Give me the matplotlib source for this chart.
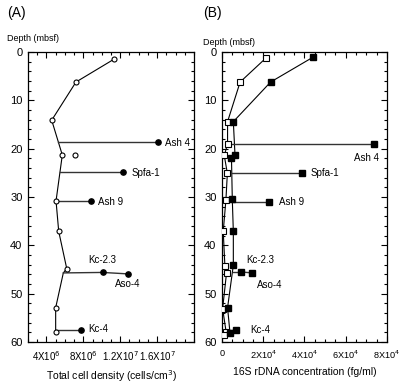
import numpy as np
import matplotlib
matplotlib.use('Agg')
import matplotlib.pyplot as plt
from matplotlib.ticker import MultipleLocator

plt.rcParams['font.family'] = ['Liberation Sans', 'DejaVu Sans']

# ---- Panel A: total cell density (cells/cm3) ----
a_line_x = [11.3e6, 7.2e6, 4.57e6, 5.72e6, 5.04e6, 5.33e6, 6.2e6, 5.83e6, 5.0e6, 5.0e6]
a_line_d = [1.5, 6.2, 14.1, 21.3, 30.8, 37.1, 44.8, 45.7, 52.9, 58.0]
a_open_x = [11.3e6, 7.2e6, 4.57e6, 5.72e6, 7.13e6, 5.04e6, 5.33e6, 6.2e6, 5.0e6, 5.0e6]
a_open_d = [1.5, 6.2, 14.1, 21.3, 21.2, 30.8, 37.1, 44.8, 52.9, 58.0]

# ash layers: branch start on profile, filled points, labels
a_ash_names = ['Ash 4', 'Spfa-1', 'Ash 9', 'Kc-2.3', 'Aso-4', 'Kc-4']
a_ash_x = [16.07e6, 12.27e6, 8.8e6, 10.1e6, 12.8e6, 7.75e6]
a_ash_d = [18.7, 24.8, 30.9, 45.6, 45.9, 57.5]
a_start_x = [5.3e6, 5.47e6, 5.04e6, 5.83e6, 10.1e6, 5.0e6]
a_start_d = [18.7, 24.8, 30.9, 45.7, 45.6, 57.5]

# ---- Panel B: 16S rDNA concentration (fg/ml) ----
b_open_x = [21.4e3, 8.8e3, 2.7e3, 2.7e3, 1.1e3, 2.6e3, 1.9e3, 0.6e3, 1.4e3, 2.2e3, 0.3e3, 2.0e3, 1.2e3]
b_open_d = [1.2, 6.2, 14.4, 19.0, 21.4, 25.1, 30.6, 37.1, 44.2, 45.7, 53.1, 57.9, 58.5]
b_fill_x = [44e3, 23.6e3, 5.5e3, 6.3e3, 4.6e3, 5.0e3, 5.5e3, 5.5e3, 2.7e3, 3.9e3]
b_fill_d = [1.1, 6.2, 14.4, 21.2, 21.9, 30.5, 37.1, 44.1, 52.9, 58.2]

b_ash_names = ['Ash 4', 'Spfa-1', 'Ash 9', 'Kc-2.3', 'Aso-4', 'Kc-4']
b_ash_x = [74e3, 38.7e3, 22.8e3, 9.3e3, 14.6e3, 6.6e3]
b_ash_d = [19.1, 25.1, 31.1, 45.5, 45.7, 57.5]
b_start_x = [4.5e3, 4.8e3, 5.0e3, 5.5e3, 9.3e3, 3.5e3]
b_start_d = [19.1, 25.1, 31.1, 45.5, 45.5, 57.5]

a_xticks = [4e6, 8e6, 1.2e7, 1.6e7]
a_xticklabels = [r'4X10$^{6}$', r'8X10$^{6}$', r'1.2X10$^{7}$', r'1.6X10$^{7}$']
b_xticks = [0, 2e4, 4e4, 6e4, 8e4]
b_xticklabels = ['0', r'2X10$^{4}$', r'4X10$^{4}$', r'6X10$^{4}$', r'8X10$^{4}$']

fig = plt.figure(figsize=(4.0, 3.83), dpi=100)
axA = fig.add_axes([0.07, 0.107, 0.415, 0.757])
axB = fig.add_axes([0.555, 0.107, 0.412, 0.757])


def style_axis(ax, xsize):
    ax.set_ylim(60, 0)
    ax.yaxis.set_major_locator(MultipleLocator(10))
    ax.yaxis.set_minor_locator(MultipleLocator(2))
    ax.tick_params(which='both', direction='in', top=True, right=True,
                   width=0.8, pad=4)
    ax.tick_params(axis='y', labelsize=8)
    ax.tick_params(axis='x', labelsize=xsize, pad=5)
    ax.tick_params(which='major', length=4)
    ax.tick_params(which='minor', length=2)
    for s in ax.spines.values():
        s.set_linewidth(0.9)


# Panel A
axA.plot(a_line_x, a_line_d, color='black', lw=0.8, zorder=2)
for i in range(len(a_ash_names)):
    axA.plot([a_start_x[i], a_ash_x[i]], [a_start_d[i], a_ash_d[i]],
             color='#333333', lw=1.0, zorder=2)
axA.plot(a_open_x, a_open_d, 'o', ms=3.6, mfc='white', mec='black', mew=0.8, zorder=3)
axA.plot(a_ash_x, a_ash_d, 'o', ms=3.8, mfc='black', mec='black', zorder=3)
a_lab_pos = [(16.9e6, 18.9, 'left', 'center'), (13.2e6, 25.0, 'left', 'center'),
             (9.6e6, 31.0, 'left', 'center'), (10.1e6, 44.0, 'center', 'bottom'),
             (12.8e6, 47.0, 'center', 'top'), (8.5e6, 57.4, 'left', 'center')]
for name, (x, d, ha, va) in zip(a_ash_names, a_lab_pos):
    axA.text(x, d, name, fontsize=7, ha=ha, va=va)
axA.set_xlim(2e6, 2e7)
axA.set_xticks(a_xticks)
axA.set_xticklabels(a_xticklabels)
axA.xaxis.set_minor_locator(MultipleLocator(1e6))
style_axis(axA, 7)
axA.set_xlabel('Total cell density (cells/cm$^{3}$)', fontsize=7.5, labelpad=4)

# Panel B
axB.plot(b_open_x, b_open_d, color='black', lw=0.8, zorder=2)
axB.plot(b_fill_x, b_fill_d, color='black', lw=0.8, zorder=2)
for i in range(len(b_ash_names)):
    axB.plot([b_start_x[i], b_ash_x[i]], [b_start_d[i], b_ash_d[i]],
             color='#333333', lw=1.0, zorder=2)
axB.plot(b_open_x, b_open_d, 's', ms=4.3, mfc='white', mec='black', mew=0.8, zorder=3)
axB.plot(b_fill_x, b_fill_d, 's', ms=4.3, mfc='black', mec='black', zorder=3)
axB.plot(b_ash_x, b_ash_d, 's', ms=4.3, mfc='black', mec='black', zorder=3)
b_lab_pos = [(76e3, 20.8, 'right', 'top'), (43e3, 25.1, 'left', 'center'),
             (27.5e3, 31.1, 'left', 'center'), (12e3, 44.0, 'left', 'bottom'),
             (17e3, 47.2, 'left', 'top'), (13.5e3, 57.5, 'left', 'center')]
for name, (x, d, ha, va) in zip(b_ash_names, b_lab_pos):
    axB.text(x, d, name, fontsize=7, ha=ha, va=va)
axB.set_xlim(0, 8e4)
axB.set_xticks(b_xticks)
axB.set_xticklabels(b_xticklabels)
axB.xaxis.set_minor_locator(MultipleLocator(5e3))
style_axis(axB, 6.6)
axB.set_xlabel('16S rDNA concentration (fg/ml)', fontsize=7.5, labelpad=4)

fig.text(0.018, 0.965, '(A)', fontsize=10, va='center')
fig.text(0.507, 0.965, '(B)', fontsize=10, va='center')
fig.text(0.018, 0.9, 'Depth (mbsf)', fontsize=6.5, va='center')
fig.text(0.507, 0.89, 'Depth (mbsf)', fontsize=6.5, va='center')

fig.savefig('out.png', dpi=100)
